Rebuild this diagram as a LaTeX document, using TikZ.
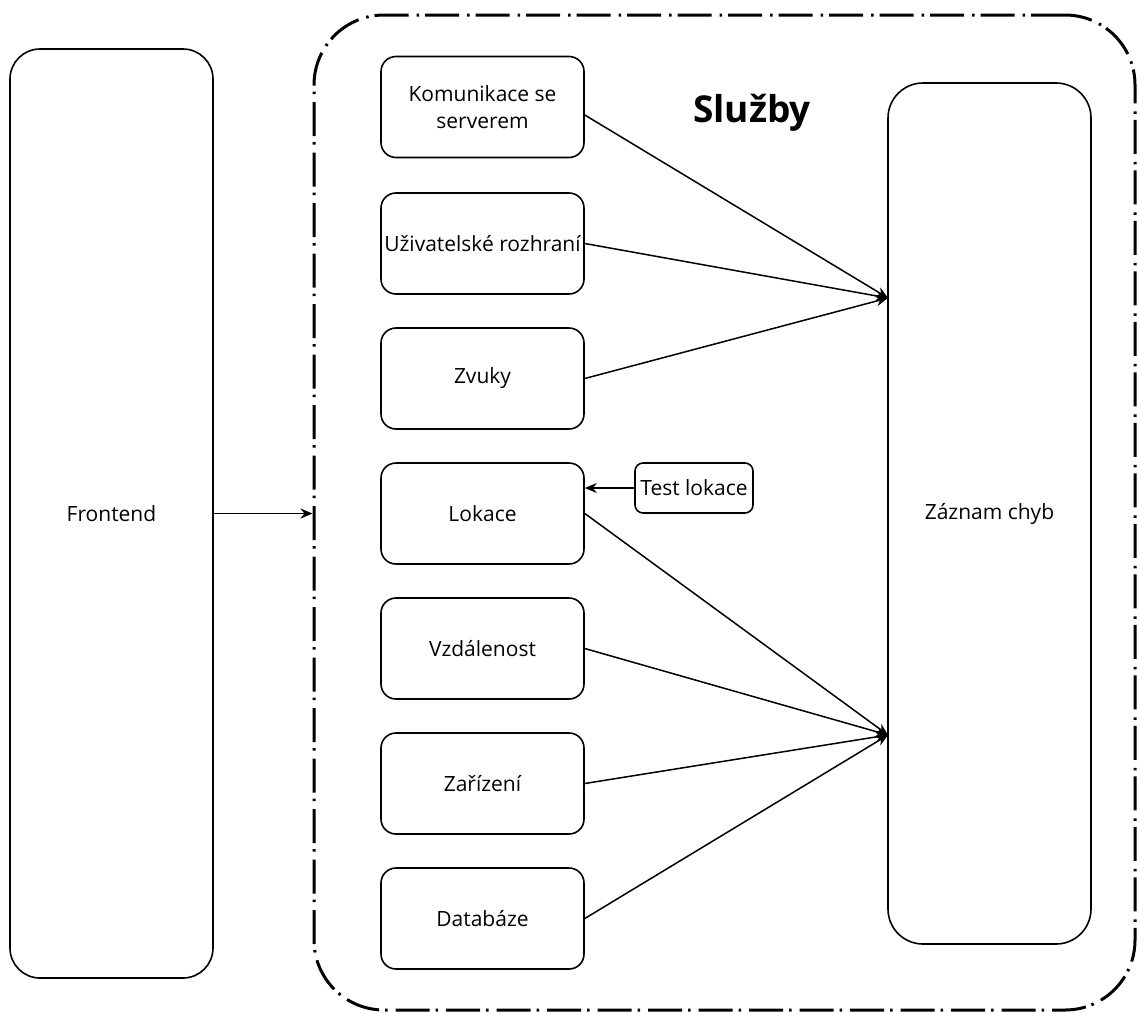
\documentclass[tikz,border=0pt]{standalone}
\usepackage{fontspec}
\setmainfont{Open Sans}
\usetikzlibrary{arrows.meta}
\begin{document}
\begin{tikzpicture}[x=1pt,y=-1pt,
  box/.style={draw, line width=1.6pt, rounded corners=15pt, minimum width=203pt, minimum height=101pt, align=center, inner sep=0pt, font=\fontsize{21}{27}\selectfont},
  conn/.style={line width=1.5pt, -{Stealth[length=12pt,width=10pt]}}
]
\useasboundingbox (0,0) rectangle (1137,1012);
% outer container
\node[draw, line width=3pt, rounded corners=70pt, dash pattern=on 34pt off 6pt on 2.5pt off 8pt, minimum width=821pt, minimum height=995pt, inner sep=0pt] (sl) at (724.5,512.5) {};
\node[font=\fontsize{37}{44}\selectfont\bfseries] (title) at (752,113) {Služby};
% frontend
\node[box, rounded corners=30pt, minimum height=929pt] (front) at (111.5,513.5) {Frontend};
% services
\node[box] (kom) at (482.5,107) {Komunikace se\\serverem};
\node[box] (uzi) at (482.5,243.5) {Uživatelské rozhraní};
\node[box] (zvu) at (482.5,378.5) {Zvuky};
\node[box] (lok) at (482.5,513.5) {Lokace};
\node[box] (vzd) at (482.5,648.5) {Vzdálenost};
\node[box] (zar) at (482.5,783.5) {Zařízení};
\node[box] (dat) at (482.5,918.5) {Databáze};
\node[box, rounded corners=8pt, minimum width=118pt, minimum height=50pt] (test) at (694,488) {Test lokace};
% error log
\node[box, rounded corners=35pt, minimum height=861pt] (zaz) at (989.5,513.5) {Záznam chyb};
\coordinate (t1) at (888,298);
\coordinate (t2) at (888,735);
% connectors
\draw[conn] (front.east) -- (front.east -| sl.west);
\draw[conn] (test.west) -- (test.west -| lok.east);
\draw[conn] ([yshift=-8pt]kom.east) -- (t1);
\draw[conn] (uzi.east) -- (t1);
\draw[conn] (zvu.east) -- (t1);
\draw[conn] (lok.east) -- (t2);
\draw[conn] (vzd.east) -- (t2);
\draw[conn] (zar.east) -- (t2);
\draw[conn] (dat.east) -- (t2);
\end{tikzpicture}
\end{document}
